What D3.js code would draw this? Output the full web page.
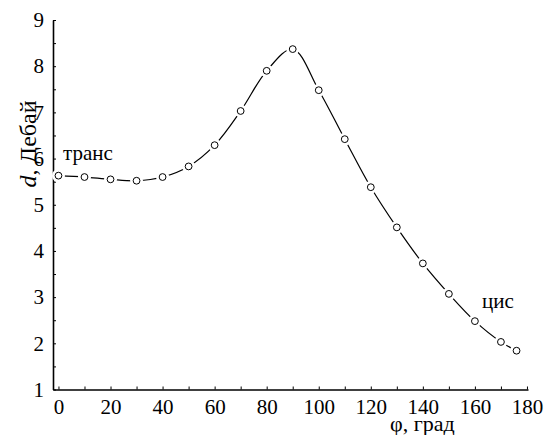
<!DOCTYPE html>
<html>
<head>
  <meta charset="UTF-8" />
  <script src="https://unpkg.com/d3@7/dist/d3.min.js"></script>
</head>
<body style="margin:0">
  <svg width="545" height="435"></svg>
  <script>
    // angle phi, degrees
    const angles = [0, 10, 20, 30, 40, 50, 60, 70, 80, 90, 100, 110, 120, 130, 140, 150, 160, 170, 176];
    // dipole moment, Debye
    const dipole = [5.63, 5.60, 5.55, 5.52, 5.60, 5.83, 6.29, 7.03, 7.90, 8.37, 7.48, 6.42, 5.38, 4.51, 3.73, 3.07, 2.48, 2.03, 1.84];
    const xTicks = d3.range(0, 181, 10);
    const yTicks = d3.range(1, 9.01, 0.5);

    const serif = "Liberation Serif";
    const svg = d3.select("svg");
    const data = angles.map((a, i) => ({ a, d: dipole[i] }));

    const x = d3.scaleLinear().domain([-2.1, 180.4]).range([53, 528]);
    const y = d3.scaleLinear().domain([1, 9]).range([389.5, 20]);

    // x axis, ticks pointing inside
    const gx = svg.append("g")
      .attr("transform", `translate(0,${y(1)})`)
      .call(d3.axisBottom(x)
        .tickValues(xTicks)
        .tickSizeInner(-3)
        .tickSizeOuter(0)
        .tickFormat(d => d % 20 === 0 ? d : ""));
    gx.attr("font-family", null).attr("font-size", null);
    gx.selectAll("text")
      .attr("y", 10).attr("dy", "0.71em")
      .style("font-family", serif).style("font-size", "21px");

    const gy = svg.append("g")
      .attr("transform", `translate(${x.range()[0]},0)`)
      .call(d3.axisLeft(y)
        .tickValues(yTicks)
        .tickSizeInner(-3)
        .tickSizeOuter(0)
        .tickFormat(d => Number.isInteger(d) ? d : ""));
    gy.attr("font-family", null).attr("font-size", null);
    gy.selectAll("text")
      .attr("x", -9)
      .style("font-family", serif).style("font-size", "21px");

    svg.selectAll(".domain").attr("stroke-width", 1.6);

    // curve
    const line = d3.line()
      .x(d => x(d.a))
      .y(d => y(d.d))
      .curve(d3.curveCatmullRom.alpha(0.5));

    svg.append("path")
      .datum(data)
      .attr("d", line)
      .attr("fill", "none")
      .attr("stroke", "#000")
      .attr("stroke-width", 1.2);

    // white halos, then the open markers
    svg.append("g").selectAll("circle")
      .data(data)
      .join("circle")
      .attr("cx", d => x(d.a))
      .attr("cy", d => y(d.d))
      .attr("r", 6.5)
      .attr("fill", "#fff");

    svg.append("g").selectAll("circle")
      .data(data)
      .join("circle")
      .attr("cx", d => x(d.a))
      .attr("cy", d => y(d.d))
      .attr("r", 3.4)
      .attr("fill", "#fff")
      .attr("stroke", "#000")
      .attr("stroke-width", 1);

    // labels
    const label = (tx, ty, size, s) => svg.append("text")
      .attr("x", tx).attr("y", ty)
      .style("font-family", serif).style("font-size", size + "px")
      .text(s);
    label(63, 160, 21, "транс");
    label(482, 308, 21, "цис");
    label(390, 431, 22, "φ, град");

    const yl = svg.append("text")
      .attr("transform", "translate(36,144) rotate(-90)")
      .attr("text-anchor", "middle")
      .style("font-family", serif)
      .style("font-size", "24px");
    yl.append("tspan").style("font-style", "italic").text("d");
    yl.append("tspan").text(", Дебай");
  </script>
</body>
</html>
